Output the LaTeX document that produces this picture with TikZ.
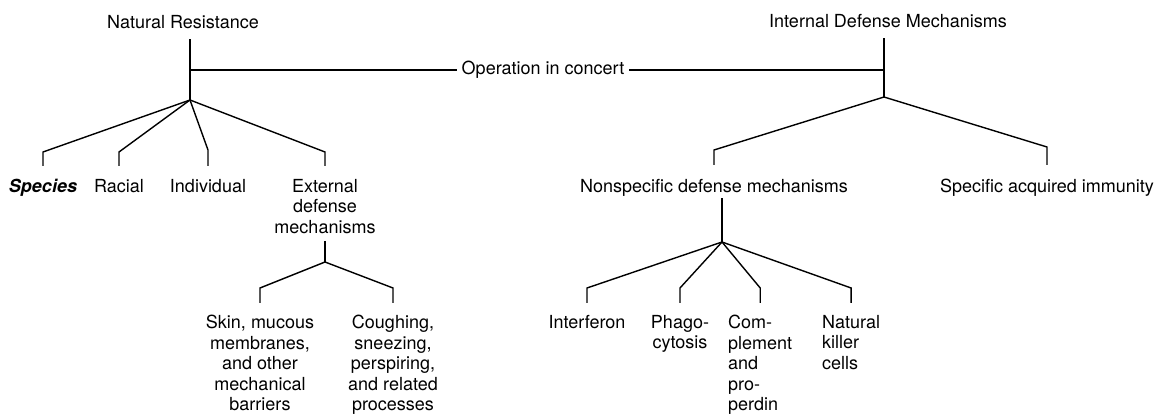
\documentclass[tikz,border=0pt]{standalone}
\usepackage{fontspec}
\setmainfont{TeX Gyre Heros}
\usetikzlibrary{positioning}
\tikzset{
  term/.style={inner sep=2pt, font=\fontsize{18}{20.5}\selectfont},
  leaf/.style={term, anchor=north, align=center},
  leftleaf/.style={term, anchor=north west, align=left},
  branch/.style={line width=1.4pt}
}
\begin{document}
\begin{tikzpicture}[x=1pt, y=-1pt]
\useasboundingbox[fill=white] (0,0) rectangle (1173,419);

% top level
\node[term, anchor=base] (nr) at (183,29) {Natural Resistance};
\node[term, anchor=base] (idm) at (888,28) {Internal Defense Mechanisms};
\node[term, inner xsep=5pt] (op) at (543,70) {Operation in concert};
\coordinate (nrfork) at (190,100);
\coordinate (idfork) at (884,97);

% second level
\node[leaf] (sp) at (43,177) {\bfseries\itshape Species};
\node[leaf] (rc) at (119,177) {Racial};
\node[leaf] (ind) at (208,177) {Individual};
\node[leaf] (ext) at (325,177) {External\\defense\\mechanisms};
\node[leaf] (nsd) at (714,177) {Nonspecific defense mechanisms};
\node[leaf] (sai) at (1047,177) {Specific acquired immunity};
\coordinate (extfork) at (325,262);
\coordinate (nsfork) at (722,242);

% third level
\node[leaf] (skin) at (260,313) {Skin, mucous\\membranes,\\and other\\mechanical\\barriers};
\node[leaf] (cough) at (393,313) {Coughing,\\sneezing,\\perspiring,\\and related\\processes};
\node[leaf] (ifn) at (587,313) {Interferon};
\node[leaf] (phago) at (680,313) {Phago-\\cytosis};
\node[leftleaf] (comp) at (726,313) {Com-\\plement\\and\\pro-\\perdin};
\node[leftleaf] (nk) at (820,313) {Natural\\killer\\cells};

% stems and the link between the two trees
\draw[branch, shorten <=8pt] (nrfork |- nr.south) -- (nrfork);
\draw[branch, shorten <=8pt] (idfork |- idm.south) -- (idfork);
\draw[branch] (op.west) -- (op.west -| nrfork);
\draw[branch] (op.east) -- (op.east -| idfork);
\draw[branch, shorten <=5pt] (extfork |- ext.south) -- (extfork);
\draw[branch] (nsfork |- nsd.south) -- (nsfork);

% branches
\draw[branch] (nrfork) -- ([yshift=25pt]sp.north) -- ([yshift=11pt]sp.north);
\draw[branch] (nrfork) -- ([yshift=25pt]rc.north) -- ([yshift=11pt]rc.north);
\draw[branch] (nrfork) -- ([yshift=27pt]ind.north) -- ([yshift=11pt]ind.north);
\draw[branch] (nrfork) -- ([yshift=25pt]ext.north) -- ([yshift=11pt]ext.north);
\draw[branch] (idfork) -- ([yshift=27pt]nsd.north) -- ([yshift=12pt]nsd.north);
\draw[branch] (idfork) -- ([yshift=30pt]sai.north) -- ([yshift=12pt]sai.north);
\draw[branch] (extfork) -- ([yshift=25pt]skin.north) -- ([yshift=10pt]skin.north);
\draw[branch] (extfork) -- ([yshift=25pt]cough.north) -- ([yshift=10pt]cough.north);
\draw[branch] (nsfork) -- ([yshift=25pt]ifn.north) -- ([yshift=10pt]ifn.north);
\draw[branch] (nsfork) -- ([yshift=25pt]phago.north) -- ([yshift=10pt]phago.north);
\draw[branch] (nsfork) -- ([yshift=25pt]comp.north) -- ([yshift=10pt]comp.north);
\draw[branch] (nsfork) -- ([yshift=25pt]nk.north) -- ([yshift=10pt]nk.north);
\end{tikzpicture}
\end{document}
